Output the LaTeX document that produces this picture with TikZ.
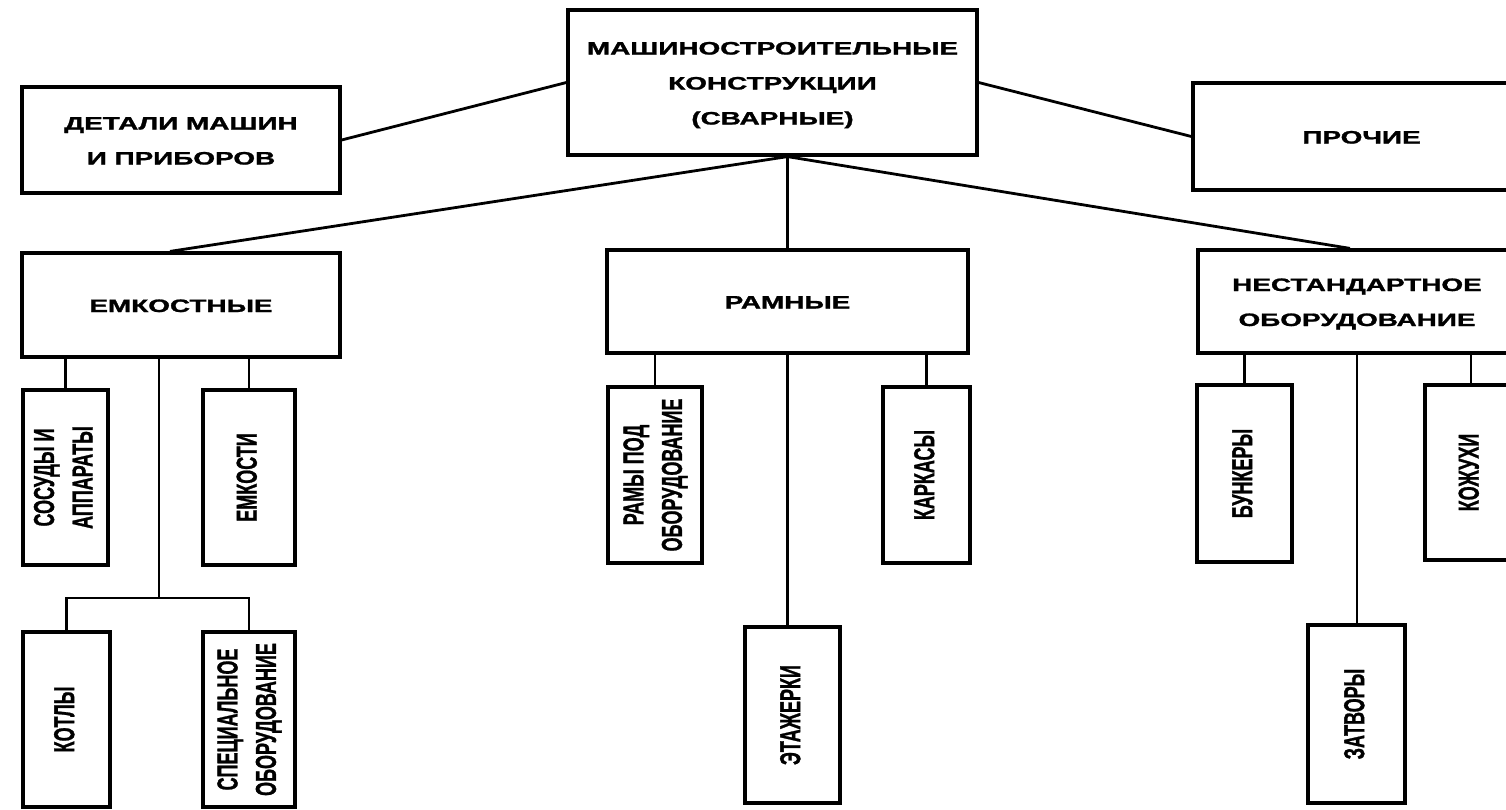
\documentclass[tikz,border=0pt]{standalone}
\usepackage{graphicx}
\usepackage{fontspec}
\setmainfont{Liberation Sans}[BoldFeatures={FakeBold=1.2}]
\newcommand{\htxt}[1]{\scalebox{1.55}[1]{\fontsize{18}{35}\selectfont\bfseries\begin{tabular}{@{}c@{}}#1\end{tabular}}}
\newcommand{\vtxt}[1]{\scalebox{1.6}[1]{\rotatebox{90}{\fontsize{18}{24}\selectfont\bfseries\begin{tabular}{@{}c@{}}#1\end{tabular}}}}
\begin{document}
\begin{tikzpicture}[x=1pt,y=-1pt,
  box/.style={draw=black,line width=3.2pt,rectangle,inner sep=0pt,fill=white},
  conn/.style={draw=black,line width=2.8pt}]
\useasboundingbox (0,0) rectangle (1506,809);
\fill[white] (0,0) rectangle (1506,809);
\clip (0,0) rectangle (1506,809);
% top level
\node[box,minimum width=409pt,minimum height=145pt] (root) at (772.5,82.5) {\htxt{МАШИНОСТРОИТЕЛЬНЫЕ\\КОНСТРУКЦИИ\\(СВАРНЫЕ)}};
\node[box,minimum width=318pt,minimum height=106pt] (det) at (181,140) {\htxt{ДЕТАЛИ МАШИН\\И ПРИБОРОВ}};
\node[box,minimum width=337pt,minimum height=107pt] (pro) at (1361.5,136.5) {\htxt{ПРОЧИЕ}};
% second level
\node[box,minimum width=318pt,minimum height=104pt] (emk) at (181,305) {\htxt{ЕМКОСТНЫЕ}};
\node[box,minimum width=361pt,minimum height=103pt] (ram) at (787.5,301.5) {\htxt{РАМНЫЕ}};
\node[box,minimum width=318pt,minimum height=103pt] (nes) at (1357,301.5) {\htxt{НЕСТАНДАРТНОЕ\\ОБОРУДОВАНИЕ}};
% third level
\node[box,minimum width=85pt,minimum height=175pt] (sos) at (65.5,477.5) {\vtxt{СОСУДЫ И\\АППАРАТЫ}};
\node[box,minimum width=92pt,minimum height=175pt] (emc) at (249,477.5) {\vtxt{ЕМКОСТИ}};
\node[box,minimum width=87pt,minimum height=175pt] (kot) at (66.5,719.5) {\vtxt{КОТЛЫ}};
\node[box,minimum width=92pt,minimum height=175pt] (spe) at (249,719.5) {\vtxt{СПЕЦИАЛЬНОЕ\\ОБОРУДОВАНИЕ}};
\node[box,minimum width=94pt,minimum height=176pt] (rmy) at (655,475) {\vtxt{РАМЫ ПОД\\ОБОРУДОВАНИЕ}};
\node[box,minimum width=87pt,minimum height=176pt] (kar) at (926.5,475) {\vtxt{КАРКАСЫ}};
\node[box,minimum width=95pt,minimum height=176pt] (eta) at (792.5,715) {\vtxt{ЭТАЖЕРКИ}};
\node[box,minimum width=95pt,minimum height=177pt] (bun) at (1244.5,473.5) {\vtxt{БУНКЕРЫ}};
\node[box,minimum width=92pt,minimum height=175pt] (koz) at (1471,472.5) {\vtxt{КОЖУХИ}};
\node[box,minimum width=97pt,minimum height=178pt] (zat) at (1356.5,714) {\vtxt{ЗАТВОРЫ}};
% connectors
\coordinate (hub) at (ram.north |- root.south);
\coordinate (br) at (159,598);
\draw[conn] (root.west) -- (det.east);
\draw[conn] (root.east) -- (pro.west);
\draw[conn] (hub) -- ([xshift=-11pt]emk.north);
\draw[conn] (hub) -- (ram.north);
\draw[conn] (hub) -- ([xshift=-7pt]nes.north);
\draw[conn] (sos.north) -- (sos.north |- emk.south);
\draw[conn] (emc.north) -- (emc.north |- emk.south);
\draw[conn] (br |- emk.south) -- (br);
\draw[conn,line join=miter] (kot.north) |- (br) -| (spe.north);
\draw[conn] (rmy.north) -- (rmy.north |- ram.south);
\draw[conn] (kar.north) -- (kar.north |- ram.south);
\draw[conn] (ram.south) -- (ram.south |- eta.north);
\draw[conn] (bun.north) -- (bun.north |- nes.south);
\draw[conn] (koz.north) -- (koz.north |- nes.south);
\draw[conn] (nes.south) -- (nes.south |- zat.north);
\end{tikzpicture}
\end{document}
